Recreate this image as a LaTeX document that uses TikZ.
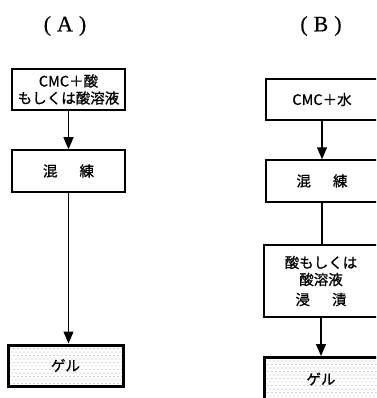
\documentclass[tikz,border=0pt]{standalone}
\usepackage{fontspec}
\usetikzlibrary{arrows.meta}
\newfontfamily\jp[FakeBold=0.8]{Noto Sans CJK JP}
\newfontfamily\serifA[FakeBold=0.4]{Liberation Serif}
\tikzset{
  box/.style={draw, line width=1.5pt, inner sep=0pt, align=center,
    font=\jp\fontsize{14.5}{17}\selectfont},
  gelbox/.style={box, line width=3pt, path picture={
      \foreach \i in {0,...,30}{\foreach \j in {0,...,12}{
        \fill[black!80] ([xshift={\i*4pt+mod(\j,2)*2pt}, yshift={-\j*3.5pt}]path picture bounding box.north west) circle (0.45pt);}}
    }},
  flow/.style={line width=1.3pt},
  arr/.style={flow, -{Triangle[width=10pt,length=12pt]}},
  ttl/.style={inner sep=0pt, font=\serifA\fontsize{22}{26}\selectfont}
}
\begin{document}
\begin{tikzpicture}[x=1pt,y=-1pt]
\useasboundingbox (0,0) rectangle (376,398);
\fill[white] (0,0) rectangle (376,398);
\clip (0,0) rectangle (376,398);
% titles
\node[ttl] (tA) at (65,26) {(\hspace{6pt}A\hspace{6pt})};
\node[ttl] (tB) at (321,26) {(\hspace{6pt}B\hspace{6pt})};
% column A
\node[box, minimum width=113pt, minimum height=41pt] (a1) at (68.5,89.5)
  {CMC＋酸\\もしくは酸溶液};
\node[box, minimum width=113pt, minimum height=42pt] (a2) at (68.5,171)
  {混\hspace{22pt}練};
\node[gelbox, minimum width=115pt, minimum height=41pt] (a3) at (65.5,365.5)
  {ゲル};
\draw[arr] (a1.south) -- (a2.north);
\draw[arr] (a2.south) -- (a2.south |- a3.north);
% column B
\node[box, minimum width=112pt, minimum height=41pt] (b1) at (322,99.5)
  {CMC＋水};
\node[box, minimum width=112pt, minimum height=42pt] (b2) at (322,181)
  {混\hspace{22pt}練};
\node[box, minimum width=114pt, minimum height=72pt] (b3) at (321,281)
  {酸もしくは\\酸溶液\\[3pt]浸\hspace{22pt}漬};
\node[gelbox, minimum width=114pt, minimum height=43pt] (b4) at (321,379)
  {ゲル};
\draw[arr] (b1.south) -- (b1.south |- b2.north);
\draw[flow] (b2.south) -- (b2.south |- b3.north);
\draw[arr] (b3.south) -- (b3.south |- b4.north);
\end{tikzpicture}
\end{document}
